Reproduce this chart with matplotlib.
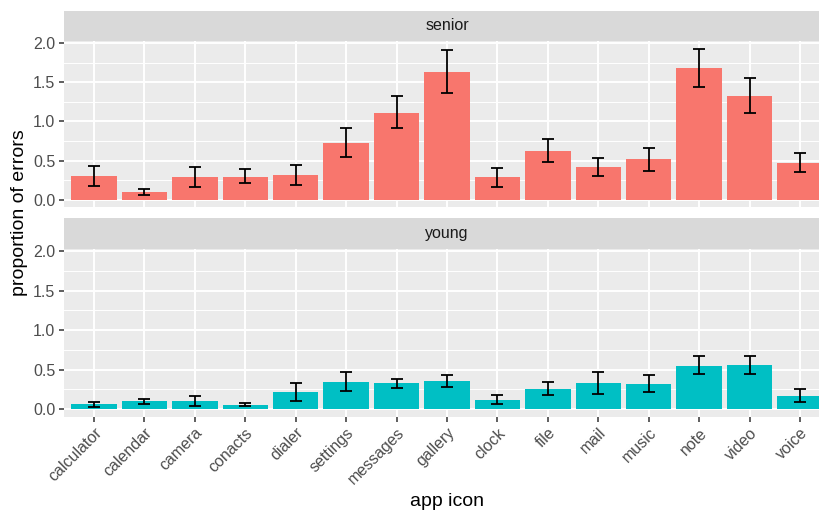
import numpy as np
import matplotlib
matplotlib.use("Agg")
import matplotlib.pyplot as plt
from matplotlib.ticker import MultipleLocator

plt.rcParams['font.family'] = ['Liberation Sans', 'DejaVu Sans']

apps = ["calculator", "calendar", "camera", "conacts", "dialer", "settings", "messages",
        "gallery", "clock", "file", "mail", "music", "note", "video", "voice"]

senior_mean = [0.297, 0.098, 0.284, 0.292, 0.310, 0.723, 1.113, 1.633, 0.284, 0.622,
               0.415, 0.516, 1.684, 1.329, 0.475]
senior_lo = [0.178, 0.064, 0.165, 0.208, 0.183, 0.546, 0.914, 1.367, 0.161, 0.478,
             0.301, 0.373, 1.439, 1.113, 0.352]
senior_hi = [0.428, 0.140, 0.415, 0.386, 0.444, 0.910, 1.320, 1.908, 0.402, 0.779,
             0.533, 0.660, 1.929, 1.548, 0.600]

young_mean = [0.059, 0.097, 0.097, 0.051, 0.211, 0.338, 0.326, 0.351, 0.118, 0.254,
              0.326, 0.317, 0.550, 0.558, 0.169]
young_lo = [0.025, 0.068, 0.038, 0.034, 0.101, 0.228, 0.270, 0.279, 0.063, 0.173,
            0.194, 0.211, 0.440, 0.448, 0.093]
young_hi = [0.093, 0.131, 0.165, 0.072, 0.330, 0.469, 0.376, 0.427, 0.178, 0.338,
            0.465, 0.427, 0.668, 0.672, 0.254]

groups = ["senior", "young"]
colors = ["#F8766D", "#00BFC4"]

W, H = 819, 514
fig = plt.figure(figsize=(W / 100, H / 100), dpi=100)

def box(x0, y0, x1, y1):
    # pixel box (top-left origin) -> figure fractions
    return [x0 / W, 1 - y1 / H, (x1 - x0) / W, (y1 - y0) / H]

left, right = 63.7, 830.3
strips = [(10.7, 41.0), (218.3, 249.3)]
panels = [(41.0, 207.3), (249.3, 416.7)]

data = [(senior_mean, senior_lo, senior_hi), (young_mean, young_lo, young_hi)]
x = np.arange(len(apps))
ymax = max(max(senior_hi), max(young_hi))
ylim = (-0.05 * ymax, 1.05 * ymax)

for i, g in enumerate(groups):
    sax = fig.add_axes(box(left, strips[i][0], right, strips[i][1]))
    sax.set_facecolor("#D9D9D9")
    sax.set_xticks([]); sax.set_yticks([])
    for s in sax.spines.values():
        s.set_visible(False)
    sax.text((447 - left) / (right - left), 0.5, g, transform=sax.transAxes,
             ha="center", va="center", fontsize=11.5, color="#1A1A1A")

    ax = fig.add_axes(box(left, panels[i][0], right, panels[i][1]))
    ax.set_facecolor("#EBEBEB")
    for s in ax.spines.values():
        s.set_visible(False)
    m, lo, hi = data[i]
    m = np.array(m); lo = np.array(lo); hi = np.array(hi)
    ax.bar(x, m, width=0.9, color=colors[i], zorder=3)
    ax.errorbar(x, m, yerr=[m - lo, hi - m], fmt="none", ecolor="black",
                elinewidth=1.3, capsize=4.4, capthick=1.3, zorder=4)
    ax.set_xlim(-0.6, len(apps) - 0.4)
    ax.set_ylim(*ylim)
    ax.yaxis.set_minor_locator(MultipleLocator(0.25))
    ax.set_yticks([0, 0.5, 1.0, 1.5, 2.0])
    ax.set_yticklabels(["0.0", "0.5", "1.0", "1.5", "2.0"])
    ax.set_xticks(x)
    ax.grid(which="major", color="white", lw=1.4, zorder=1)
    ax.grid(which="minor", axis="y", color="white", lw=0.7, zorder=1)
    ax.tick_params(axis="y", which="minor", length=0)
    ax.tick_params(axis="both", which="major", length=3.6, width=1.1, color="#333333",
                   labelsize=11.5, labelcolor="#4D4D4D", pad=2.5)
    if i == 0:
        ax.tick_params(axis="x", length=0, labelbottom=False)
    else:
        ax.set_xticklabels(apps, rotation=45, ha="right", va="top",
                           rotation_mode="anchor")
        ax.set_xlabel("app icon", fontsize=14, color="black", labelpad=4)

fig.text(20 / W, 1 - 213 / H, "proportion of errors", rotation=90, ha="center",
         va="center", fontsize=14, color="black")

fig.savefig("out.png", dpi=100, facecolor="white")
